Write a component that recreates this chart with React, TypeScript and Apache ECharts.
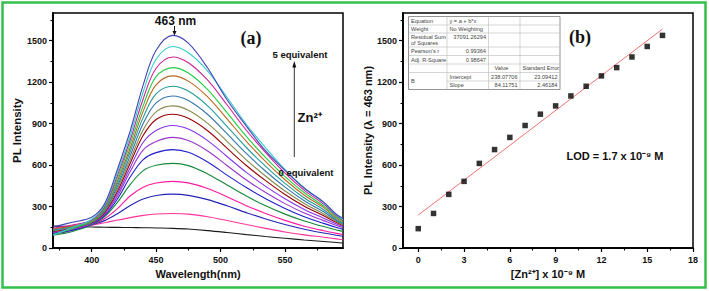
import React, { useEffect, useRef } from 'react';
import * as echarts from 'echarts';

// ---------- Panel (a): emission spectra ----------
const wavelengths = [370, 385, 400, 410, 420, 430, 440, 450, 463, 475, 490, 505, 520, 535, 550, 565, 580, 590, 595];

const spec00 = [158, 156, 152, 150, 149, 148, 147, 145, 142, 137, 126, 112, 97, 83, 70, 58, 47, 40, 36];
const spec01 = [118, 138, 165, 183, 202, 220, 236, 246, 250, 245, 226, 199, 170, 142, 116, 95, 78, 66, 60];
const spec02 = [108, 132, 168, 198, 248, 308, 355, 380, 390, 381, 350, 305, 256, 210, 170, 136, 108, 92, 85];
const spec03 = [100, 126, 168, 212, 285, 378, 440, 470, 482, 471, 430, 370, 306, 250, 200, 158, 125, 106, 98];
const spec04 = [92, 120, 168, 226, 330, 460, 560, 598, 612, 596, 536, 456, 376, 305, 245, 195, 155, 130, 120];
const spec05 = [104, 128, 172, 234, 355, 515, 640, 690, 712, 692, 622, 527, 437, 356, 286, 226, 178, 148, 135];
const spec06 = [112, 136, 176, 242, 375, 555, 710, 770, 800, 777, 702, 597, 492, 401, 321, 253, 198, 162, 148];
const spec07 = [118, 142, 180, 250, 392, 585, 765, 850, 886, 860, 777, 662, 547, 446, 356, 279, 216, 173, 156];
const spec08 = [120, 145, 182, 256, 410, 615, 815, 930, 968, 938, 848, 722, 597, 487, 387, 302, 233, 184, 162];
const spec09 = [124, 148, 185, 263, 428, 640, 855, 985, 1028, 997, 902, 772, 638, 519, 412, 322, 246, 191, 166];
const spec10 = [128, 152, 188, 270, 447, 670, 900, 1050, 1100, 1067, 966, 827, 684, 555, 440, 342, 262, 199, 173];
const spec11 = [132, 156, 191, 278, 466, 700, 945, 1115, 1170, 1135, 1028, 880, 727, 590, 467, 362, 277, 207, 181];
const spec12 = [137, 160, 194, 285, 485, 725, 990, 1180, 1245, 1207, 1093, 934, 772, 625, 494, 382, 292, 216, 189];
const spec13 = [98, 140, 196, 292, 505, 755, 1030, 1240, 1305, 1266, 1146, 979, 807, 654, 517, 400, 304, 224, 196];
const spec14 = [143, 166, 202, 300, 525, 785, 1080, 1300, 1382, 1340, 1214, 1036, 852, 690, 542, 417, 317, 232, 201];
const spec15 = [94, 148, 208, 310, 545, 815, 1130, 1365, 1458, 1412, 1280, 1090, 895, 724, 567, 434, 327, 238, 206];
const spec16 = [152, 186, 222, 320, 570, 850, 1180, 1430, 1538, 1482, 1302, 1072, 882, 702, 562, 432, 332, 242, 216];

const spectra = [spec00, spec01, spec02, spec03, spec04, spec05, spec06, spec07, spec08, spec09, spec10, spec11, spec12, spec13, spec14, spec15, spec16];
const spectraColors = [
  '#1a1a1a', '#ff3399', '#2424b8', '#ff1aa0', '#15883a', '#2020cc', '#9a35cc', '#8833ee', '#990000',
  '#88884a', '#3377aa', '#229a9a', '#bb6a22', '#22cc44', '#cc2299', '#33cccc', '#4444b4',
];

const xTicksA = [400, 450, 500, 550];
const xMinorA = [375, 425, 475, 525, 575];
const yTicks = [0, 300, 600, 900, 1200, 1500];
const yMinor = [150, 450, 750, 1050, 1350, 1650];

// ---------- Panel (b): calibration ----------
const znConc = [0, 1, 2, 3, 4, 5, 6, 7, 8, 9, 10, 11, 12, 13, 14, 15, 16];
const intensity463 = [140, 250, 388, 482, 612, 712, 800, 886, 968, 1028, 1100, 1170, 1245, 1305, 1382, 1458, 1538];
const fitIntercept = 238.07706;
const fitSlope = 84.11751;
const fitRange = [0, 16];
const xTicksB = [0, 3, 6, 9, 12, 15, 18];
const xMinorB = [1.5, 4.5, 7.5, 10.5, 13.5, 16.5];

const tableRows = [
  ['Equation', 'y = a + b*x', '', ''],
  ['Weight', 'No Weighting', '', ''],
  ['Residual Sum\nof Squares', '37091.26294', '', ''],
  ["Pearson's r", '0.99364', '', ''],
  ['Adj. R-Square', '0.98647', '', ''],
  ['', '', 'Value', 'Standard Error'],
  ['B', 'Intercept', '238.07706', '23.09412'],
  ['', 'Slope', '84.11751', '2.46184'],
];

const FONT = '"Liberation Sans", Arial, sans-serif';
const SERIF = '"Liberation Serif", "Times New Roman", serif';
const plain = (v: number) => String(v);

function makeX(grid: number, min: number, max: number, ticks: number[], minor: number[], name: string) {
  const line = { show: true, onZero: false, lineStyle: { color: '#000', width: 1.5 } };
  return [
    {
      gridIndex: grid, type: 'value', position: 'bottom', min, max,
      axisLine: line,
      axisTick: { show: true, customValues: ticks, length: 4, lineStyle: { color: '#000', width: 1.2 } },
      axisLabel: { show: true, customValues: ticks, formatter: plain, margin: 7, fontSize: 9, fontWeight: 'bold', color: '#111', fontFamily: FONT },
      splitLine: { show: false },
      name, nameLocation: 'middle', nameGap: 19,
      nameTextStyle: { fontSize: 11, fontWeight: 'bold', color: '#111', fontFamily: FONT },
    },
    {
      gridIndex: grid, type: 'value', position: 'bottom', min, max,
      axisLine: line,
      axisTick: { show: true, customValues: minor, length: 2.5, lineStyle: { color: '#000', width: 1.1 } },
      axisLabel: { show: false },
      splitLine: { show: false },
    },
  ];
}

function makeY(grid: number, name: string, nameSize: number) {
  const line = { show: true, onZero: false, lineStyle: { color: '#000', width: 1.5 } };
  return [
    {
      gridIndex: grid, type: 'value', position: 'left', min: 0, max: 1700,
      axisLine: line,
      axisTick: { show: true, customValues: yTicks, length: 4, lineStyle: { color: '#000', width: 1.2 } },
      axisLabel: { show: true, customValues: yTicks, formatter: plain, margin: 6, fontSize: 9, fontWeight: 'bold', color: '#111', fontFamily: FONT },
      splitLine: { show: false },
      name, nameLocation: 'middle', nameGap: 27,
      nameTextStyle: { fontSize: nameSize, fontWeight: 'bold', color: '#111', fontFamily: FONT },
    },
    {
      gridIndex: grid, type: 'value', position: 'left', min: 0, max: 1700,
      axisLine: line,
      axisTick: { show: true, customValues: yMinor, length: 2.5, lineStyle: { color: '#000', width: 1.1 } },
      axisLabel: { show: false },
      splitLine: { show: false },
    },
  ];
}

function txt(text: string, x: number, y: number, size: number, align: string, opts: any = {}) {
  return {
    type: 'text', x, y, z: 100,
    style: {
      text, fill: opts.fill || '#111',
      fontSize: size, fontWeight: opts.weight || 'bold', fontFamily: opts.family || FONT,
      align, textAlign: align, verticalAlign: 'middle', textVerticalAlign: 'middle',
      lineHeight: opts.lineHeight,
    },
  };
}

function buildTable() {
  const xs = [408.5, 447, 488.5, 520, 560];
  const ys = [16.5, 25, 33, 47, 55.5, 64, 72.5, 81, 89.5];
  const els: any[] = [];
  els.push({ type: 'rect', z: 90, shape: { x: xs[0], y: ys[0], width: xs[4] - xs[0], height: ys[8] - ys[0] }, style: { fill: '#fff', stroke: '#777', lineWidth: 0.8 } });
  const thin = { stroke: '#b8b8b8', lineWidth: 0.6 };
  for (let r = 1; r < ys.length - 1; r++) {
    const startX = r === 7 ? xs[1] : xs[0];
    els.push({ type: 'line', z: 91, shape: { x1: startX, y1: ys[r], x2: xs[4], y2: ys[r] }, style: thin });
  }
  for (let c = 1; c < xs.length - 1; c++) {
    els.push({ type: 'line', z: 91, shape: { x1: xs[c], y1: ys[0], x2: xs[c], y2: ys[8] }, style: thin });
  }
  const fs = 5.6;
  const o = { weight: 'normal', fill: '#444', lineHeight: 5.6 };
  tableRows.forEach((row, r) => {
    row.forEach((cell, c) => {
      if (!cell) return;
      let y = (ys[r] + ys[r + 1]) / 2;
      if (r === 2 && c > 0) y = ys[r] + 4;
      if (r === 6 && c === 0) y = ys[7];
      const rightAlign = (c === 1 && r >= 2 && r <= 4) || (c >= 2 && r >= 6);
      if (rightAlign) {
        els.push(txt(cell, xs[c + 1] - 2.5, y, fs, 'right', o));
      } else {
        const pad = c === 2 && r === 5 ? 6 : 2.5;
        els.push(txt(cell, xs[c] + pad, y, fs, 'left', o));
      }
    });
  });
  return els;
}

export default function App() {
  const ref = useRef<HTMLDivElement>(null);
  useEffect(() => {
    document.body.style.margin = '0';
    const chart = echarts.init(ref.current!, null, { renderer: 'svg' });
    const series: any[] = spectra.map((d, i) => ({
      type: 'line', xAxisIndex: 0, yAxisIndex: 0, z: 2,
      data: wavelengths.map((w, j) => [w, d[j]]),
      smooth: 0.35, showSymbol: false, silent: true,
      lineStyle: { color: spectraColors[i], width: 1.1 },
    }));
    series.push({
      type: 'line', xAxisIndex: 2, yAxisIndex: 2, z: 2,
      data: fitRange.map((x) => [x, fitIntercept + fitSlope * x]),
      showSymbol: false, silent: true,
      lineStyle: { color: '#f07272', width: 1 },
    });
    series.push({
      type: 'scatter', xAxisIndex: 2, yAxisIndex: 2, z: 3,
      data: znConc.map((x, i) => [x, intensity463[i]]),
      symbol: 'rect', symbolSize: 5.5, itemStyle: { color: '#000' },
    });

    const graphic: any[] = [
      { type: 'rect', z: 100, shape: { x: 2.5, y: 2.5, width: 703, height: 285 }, style: { fill: 'none', stroke: '#34bf48', lineWidth: 2.5 } },
      txt('463 nm', 175.5, 21, 12, 'center'),
      { type: 'line', z: 100, shape: { x1: 174.5, y1: 26, x2: 174.5, y2: 32 }, style: { stroke: '#111', lineWidth: 1 } },
      { type: 'polygon', z: 100, shape: { points: [[172.5, 31], [176.5, 31], [174.5, 35.5]] }, style: { fill: '#111' } },
      txt('(a)', 251, 38, 18, 'center', { family: SERIF }),
      txt('5 equivalent', 300, 54, 9.5, 'center'),
      { type: 'line', z: 100, shape: { x1: 294.3, y1: 66, x2: 294.3, y2: 157 }, style: { stroke: '#333', lineWidth: 1 } },
      { type: 'polygon', z: 100, shape: { points: [[292.3, 67.5], [296.3, 67.5], [294.3, 61]] }, style: { fill: '#111' } },
      txt('Zn²⁺', 297.5, 117, 13, 'left'),
      txt('0 equivalent', 306, 172, 9.5, 'center'),
      txt('(b)', 580, 37, 18, 'center', { family: SERIF }),
      txt('LOD = 1.7 x 10⁻⁹ M', 566.5, 155.5, 11, 'left'),
      ...buildTable(),
    ];

    chart.setOption({
      animation: false,
      backgroundColor: '#fff',
      textStyle: { fontFamily: FONT },
      grid: [
        { left: 53, top: 13, width: 290, height: 235, show: true, borderColor: '#000', borderWidth: 1.5, backgroundColor: 'transparent' },
        { left: 403, top: 13, width: 290, height: 235, show: true, borderColor: '#000', borderWidth: 1.5, backgroundColor: 'transparent' },
      ],
      xAxis: [
        ...makeX(0, 370, 595, xTicksA, xMinorA, 'Wavelength(nm)'),
        ...makeX(1, -1, 18, xTicksB, xMinorB, '[Zn²⁺] x 10⁻⁹ M'),
      ],
      yAxis: [
        ...makeY(0, 'PL Intensity', 11.5),
        ...makeY(1, 'PL Intensity (λ = 463 nm)', 11),
      ],
      series,
      graphic,
    });
    return () => chart.dispose();
  }, []);
  return <div ref={ref} style={{ position: 'absolute', left: 0, top: 0, width: 709, height: 291 }} />;
}
